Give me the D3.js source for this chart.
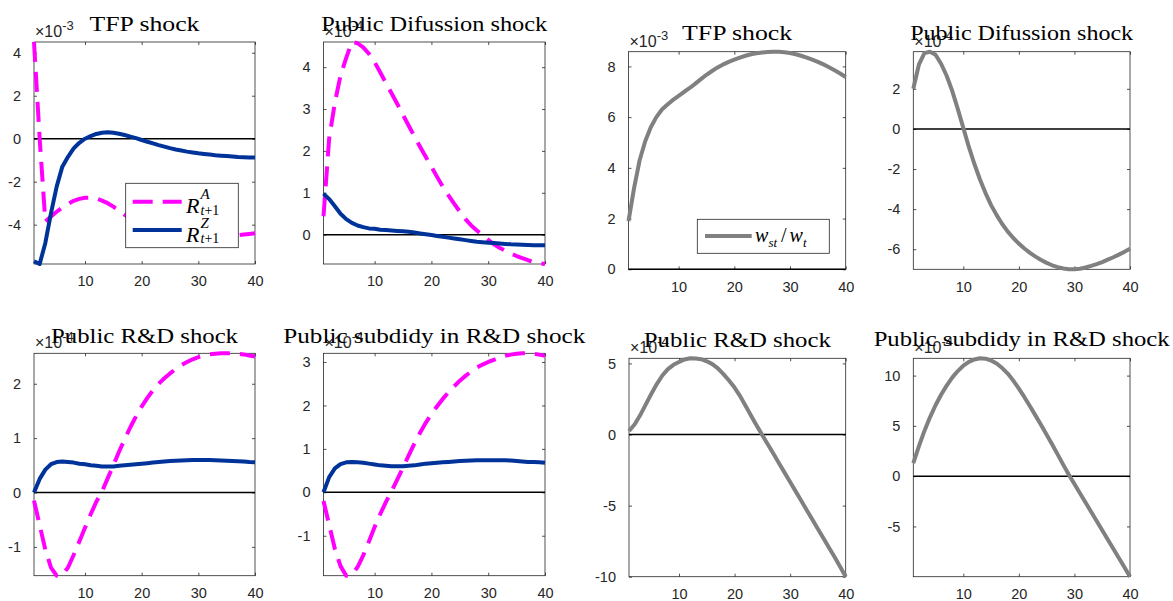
<!DOCTYPE html>
<html>
<head>
<meta charset="utf-8">
<script src="https://cdn.jsdelivr.net/npm/d3@7"></script>
<style>
body { margin: 0; background: #fff; }
svg { display: block; }
.tick text { font-family: "Liberation Sans", Arial, sans-serif; font-size: 14.5px; fill: #262626; }
.tick line { stroke: #262626; stroke-width: 0.8; }
.title { font-family: "Liberation Serif", "Times New Roman", serif; font-size: 21px; fill: #000; }
.expo { font-family: "Liberation Sans", Arial, sans-serif; font-size: 16px; fill: #262626; }
.math { font-family: "Liberation Serif", "Times New Roman", serif; fill: #000; }
</style>
</head>
<body>
<svg id="chart" width="1173" height="601"></svg>
<script>
var periods = d3.range(1, 41);
var xTicks = [10, 20, 30, 40];

// TFP shock (x 1e-3)
var tfpRA = [4.5, 0.0, -3.85, -3.62, -3.4, -3.2, -3.03, -2.89, -2.8, -2.75, -2.74, -2.78, -2.88, -3.0, -3.16, -3.34, -3.54, -3.7, -3.84, -3.96,
    -4.07, -4.16, -4.24, -4.31, -4.37, -4.42, -4.46, -4.49, -4.51, -4.53, -4.54, -4.55, -4.55, -4.54, -4.53, -4.51, -4.49, -4.46, -4.43, -4.4];
var tfpRZ = [-5.7, -5.83, -4.85, -3.46, -2.23, -1.3, -0.84, -0.45, -0.19, 0.0, 0.12, 0.22, 0.28, 0.3, 0.28, 0.23, 0.17, 0.1, 0.03, -0.06,
    -0.14, -0.22, -0.3, -0.37, -0.44, -0.5, -0.55, -0.6, -0.64, -0.68, -0.71, -0.74, -0.77, -0.79, -0.81, -0.83, -0.85, -0.86, -0.87, -0.88];
var tfpW = [1.9, 3.2, 4.3, 5.05, 5.6, 6.0, 6.3, 6.5, 6.68, 6.84, 7.0, 7.15, 7.32, 7.5, 7.67, 7.82, 7.96, 8.08, 8.18, 8.27,
    8.35, 8.42, 8.48, 8.52, 8.55, 8.57, 8.58, 8.58, 8.56, 8.53, 8.48, 8.42, 8.35, 8.27, 8.18, 8.08, 7.97, 7.85, 7.72, 7.58];

// Public diffusion shock (x 1e-4)
var difRA = [0.44, 2.3, 3.15, 3.8, 4.22, 4.6, 4.57, 4.47, 4.32, 4.12, 3.87, 3.62, 3.37, 3.12, 2.86, 2.6, 2.35, 2.1, 1.86, 1.62,
    1.38, 1.15, 0.94, 0.74, 0.55, 0.37, 0.22, 0.1, -0.01, -0.12, -0.23, -0.31, -0.38, -0.45, -0.51, -0.56, -0.61, -0.65, -0.68, -0.7];
var difRZ = [0.98, 0.85, 0.68, 0.5, 0.37, 0.28, 0.22, 0.18, 0.15, 0.14, 0.12, 0.11, 0.1, 0.09, 0.08, 0.07, 0.05, 0.03, 0.01, -0.01,
    -0.03, -0.05, -0.07, -0.09, -0.11, -0.13, -0.15, -0.17, -0.18, -0.19, -0.2, -0.21, -0.22, -0.23, -0.235, -0.24, -0.245, -0.25, -0.25, -0.255];
var difW = [2.0, 3.2, 3.78, 3.85, 3.7, 3.25, 2.65, 1.9, 1.0, 0.05, -0.9, -1.75, -2.52, -3.2, -3.8, -4.3, -4.74, -5.12, -5.44, -5.72,
    -5.96, -6.18, -6.37, -6.54, -6.68, -6.8, -6.89, -6.96, -7.0, -7.0, -6.97, -6.91, -6.83, -6.74, -6.64, -6.52, -6.4, -6.27, -6.13, -5.98];

// Public R&D shock (x 1e-4)
var rdRA = [-0.15, -0.6, -1.05, -1.38, -1.53, -1.52, -1.38, -1.15, -0.9, -0.65, -0.4, -0.17, 0.02, 0.26, 0.5, 0.75, 0.98, 1.2, 1.4, 1.58,
    1.74, 1.88, 2.0, 2.1, 2.19, 2.27, 2.34, 2.4, 2.45, 2.49, 2.52, 2.54, 2.55, 2.56, 2.56, 2.56, 2.55, 2.54, 2.52, 2.5];
var rdRZ = [0.0, 0.25, 0.42, 0.52, 0.56, 0.57, 0.56, 0.55, 0.53, 0.52, 0.5, 0.49, 0.48, 0.48, 0.48, 0.49, 0.5, 0.51, 0.52, 0.53,
    0.54, 0.55, 0.56, 0.57, 0.58, 0.585, 0.59, 0.595, 0.6, 0.6, 0.6, 0.6, 0.595, 0.59, 0.585, 0.58, 0.575, 0.57, 0.56, 0.555];
var rdW = [0.25, 0.7, 1.35, 2.1, 2.85, 3.55, 4.15, 4.6, 4.9, 5.1, 5.28, 5.36, 5.35, 5.3, 5.15, 4.95, 4.65, 4.25, 3.8, 3.3,
    2.7, 2.0, 1.3, 0.62, -0.05, -0.7, -1.36, -2.02, -2.68, -3.34, -4.0, -4.66, -5.32, -5.98, -6.64, -7.3, -7.96, -8.62, -9.3, -10.0];

// Public subsidy in R&D shock (x 1e-4)
var subRA = [-0.2, -0.75, -1.3, -1.7, -1.92, -1.9, -1.72, -1.45, -1.13, -0.8, -0.5, -0.22, 0.03, 0.3, 0.57, 0.85, 1.12, 1.37, 1.6, 1.8,
    1.98, 2.15, 2.3, 2.44, 2.57, 2.68, 2.78, 2.87, 2.94, 3.0, 3.05, 3.1, 3.14, 3.17, 3.19, 3.2, 3.2, 3.19, 3.17, 3.14];
var subRZ = [0.0, 0.35, 0.55, 0.65, 0.69, 0.7, 0.69, 0.68, 0.66, 0.64, 0.62, 0.61, 0.6, 0.6, 0.6, 0.61, 0.62, 0.64, 0.66, 0.67,
    0.68, 0.69, 0.7, 0.71, 0.72, 0.725, 0.73, 0.735, 0.74, 0.74, 0.74, 0.74, 0.735, 0.73, 0.72, 0.71, 0.7, 0.695, 0.69, 0.68];
var subW = [1.3, 2.95, 4.5, 5.85, 7.05, 8.1, 9.0, 9.8, 10.45, 10.98, 11.37, 11.6, 11.72, 11.68, 11.5, 11.2, 10.75, 10.2, 9.5, 8.7,
    7.85, 6.95, 6.02, 5.08, 4.12, 3.14, 2.14, 1.12, 0.15, -0.78, -1.7, -2.62, -3.54, -4.46, -5.38, -6.3, -7.22, -8.14, -9.07, -10.0];

var styles = {
    RA: { color: "#ff00ff", dash: "20,10" },
    RZ: { color: "#003399", dash: null },
    W: { color: "#808080", dash: null }
};

var panels = [
    { title: "TFP shock", exponent: "-3", yTicks: [-4, -2, 0, 2, 4], lines: [[tfpRA, "RA"], [tfpRZ, "RZ"]],
      box: [34, 42, 255, 264], titleY: 30.5, titleW: 110, legend: "R" },
    { title: "Public Difussion shock", exponent: "-4", yTicks: [0, 1, 2, 3, 4], lines: [[difRA, "RA"], [difRZ, "RZ"]],
      box: [323.5, 42, 545, 264], titleY: 30.5, titleW: 226 },
    { title: "TFP shock", exponent: "-3", yTicks: [0, 2, 4, 6, 8], lines: [[tfpW, "W"]],
      box: [628.5, 51.7, 845.7, 269.3], titleY: 40, titleW: 110, legend: "W" },
    { title: "Public Difussion shock", exponent: "-4", yTicks: [-6, -4, -2, 0, 2], lines: [[difW, "W"]],
      box: [913.3, 51.7, 1130, 269.3], titleY: 40, titleW: 223 },
    { title: "Public R&D shock", exponent: "-4", yTicks: [-1, 0, 1, 2], lines: [[rdRA, "RA"], [rdRZ, "RZ"]],
      box: [34, 353.3, 255, 575.7], titleY: 343.3, titleW: 187 },
    { title: "Public subdidy in R&D shock", exponent: "-4", yTicks: [-1, 0, 1, 2, 3], lines: [[subRA, "RA"], [subRZ, "RZ"]],
      box: [323.5, 353.3, 545, 575.7], titleY: 343.3, titleW: 302 },
    { title: "Public R&D shock", exponent: "-4", yTicks: [-10, -5, 0, 5], lines: [[rdW, "W"]],
      box: [629, 358.3, 845.7, 576.7], titleY: 346.7, titleW: 187 },
    { title: "Public subdidy in R&D shock", exponent: "-4", yTicks: [-5, 0, 5, 10], lines: [[subW, "W"]],
      box: [913.3, 358.3, 1130, 576.7], titleY: 346, titleW: 296 }
];

var svg = d3.select("#chart");

function drawLegendLine(g, x1, x2, yy, key) {
    g.append("line")
        .attr("x1", x1).attr("x2", x2).attr("y1", yy).attr("y2", yy)
        .attr("stroke", styles[key].color)
        .attr("stroke-width", 4)
        .attr("stroke-dasharray", styles[key].dash);
}

function drawR(g, x0, yy, sup) {
    g.append("text").classed("math", true)
        .attr("x", x0).attr("y", yy + 11.5)
        .style("font-size", "22px").style("font-style", "italic")
        .text("R");
    g.append("text").classed("math", true)
        .attr("x", x0 + 14.5).attr("y", yy - 2.5)
        .style("font-size", "15px").style("font-style", "italic")
        .text(sup);
    var sub = g.append("text").classed("math", true)
        .attr("x", x0 + 14.5).attr("y", yy + 13)
        .style("font-size", "14px");
    sub.append("tspan").style("font-style", "italic").text("t");
    sub.append("tspan").text("+1");
}

panels.forEach(function (p) {
    var left = p.box[0], top = p.box[1], right = p.box[2], bottom = p.box[3];
    var x = d3.scaleLinear().domain([1, 40]).range([left, right]);
    var all = [0];
    p.lines.forEach(function (l) { all = all.concat(l[0]); });
    var y = d3.scaleLinear().domain(d3.extent(all)).range([bottom, top]);

    var g = svg.append("g");

    // axes (ticks inside, box on)
    g.append("g").attr("transform", "translate(0," + bottom + ")")
        .call(d3.axisBottom(x).tickValues(xTicks).tickSize(-3).tickSizeOuter(0).tickPadding(12).tickFormat(function (d) { return String(d); }))
        .call(function (a) { a.select(".domain").remove(); });
    g.append("g").attr("transform", "translate(0," + top + ")")
        .call(d3.axisTop(x).tickValues(xTicks).tickSize(-3).tickSizeOuter(0).tickFormat(""))
        .call(function (a) { a.select(".domain").remove(); });
    g.append("g").attr("transform", "translate(" + left + ",0)")
        .call(d3.axisLeft(y).tickValues(p.yTicks).tickSize(-3).tickSizeOuter(0).tickPadding(13).tickFormat(function (d) { return String(d); }))
        .call(function (a) { a.select(".domain").remove(); });
    g.append("g").attr("transform", "translate(" + right + ",0)")
        .call(d3.axisRight(y).tickValues(p.yTicks).tickSize(-3).tickSizeOuter(0).tickFormat(""))
        .call(function (a) { a.select(".domain").remove(); });

    g.append("rect")
        .attr("x", left).attr("y", top)
        .attr("width", right - left).attr("height", bottom - top)
        .attr("fill", "none")
        .attr("stroke", "#262626")
        .attr("stroke-width", 0.8);

    // zero line
    g.append("path")
        .datum(periods)
        .attr("d", d3.line().x(function (d) { return x(d); }).y(function () { return y(0); }))
        .attr("fill", "none")
        .attr("stroke", "#000")
        .attr("stroke-width", 1.5);

    p.lines.forEach(function (l) {
        var st = styles[l[1]];
        g.append("path")
            .datum(l[0])
            .attr("d", d3.line().x(function (d, i) { return x(periods[i]); }).y(function (d) { return y(d); }))
            .attr("fill", "none")
            .attr("stroke", st.color)
            .attr("stroke-width", 4)
            .attr("stroke-linejoin", "round")
            .attr("stroke-dasharray", st.dash);
    });

    // exponent label
    var ex = g.append("text").classed("expo", true)
        .attr("x", left + 1).attr("y", top - 5);
    ex.append("tspan").text("\u00d710");
    ex.append("tspan").attr("dy", -7).style("font-size", "13px").text(p.exponent);

    // title
    g.append("text").classed("title", true)
        .attr("x", (left + right) / 2).attr("y", p.titleY)
        .attr("text-anchor", "middle")
        .attr("textLength", p.titleW)
        .attr("lengthAdjust", "spacingAndGlyphs")
        .text(p.title);

    if (p.legend === "R") {
        var lg = g.append("g");
        lg.append("rect").attr("x", 125.7).attr("y", 183.3).attr("width", 112.6).attr("height", 64.4)
            .attr("fill", "#fff").attr("stroke", "#262626").attr("stroke-width", 0.8);
        drawLegendLine(lg, 132.7, 181.7, 201.7, "RA");
        drawR(lg, 186, 201.7, "A");
        drawLegendLine(lg, 132.7, 181.7, 230, "RZ");
        drawR(lg, 186, 230, "Z");
    }
    if (p.legend === "W") {
        var lw = g.append("g");
        lw.append("rect").attr("x", 697.3).attr("y", 219.3).attr("width", 132).attr("height", 34)
            .attr("fill", "#fff").attr("stroke", "#262626").attr("stroke-width", 0.8);
        drawLegendLine(lw, 705, 751.7, 236, "W");
        var yy = 236;
        lw.append("text").classed("math", true).attr("x", 755).attr("y", yy + 5.7)
            .style("font-size", "20px").style("font-style", "italic").text("w");
        lw.append("text").classed("math", true).attr("x", 768.5).attr("y", yy + 10.7)
            .style("font-size", "13px").style("font-style", "italic").text("st");
        lw.append("text").classed("math", true).attr("x", 781).attr("y", yy + 6)
            .style("font-size", "20px").text("/");
        lw.append("text").classed("math", true).attr("x", 789.5).attr("y", yy + 5.7)
            .style("font-size", "20px").style("font-style", "italic").text("w");
        lw.append("text").classed("math", true).attr("x", 803).attr("y", yy + 10.7)
            .style("font-size", "13px").style("font-style", "italic").text("t");
    }
});
</script>
</body>
</html>
